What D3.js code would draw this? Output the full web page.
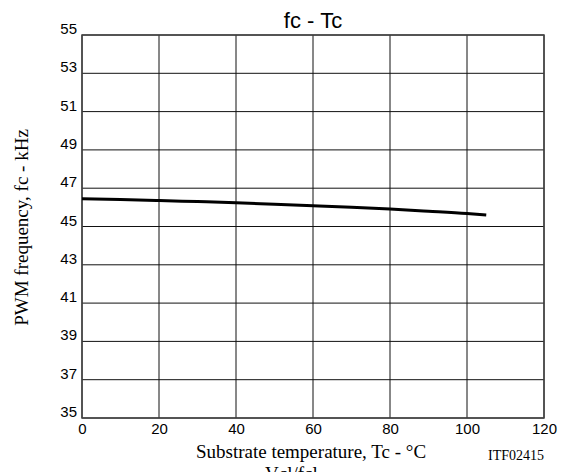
<!DOCTYPE html>
<html>
<head>
<meta charset="utf-8">
<script src="https://cdn.jsdelivr.net/npm/d3@7"></script>
<style>
  body { margin: 0; background: #fff; }
  svg { display: block; }
</style>
</head>
<body>
<svg id="chart" width="564" height="472"></svg>
<script>
// data
var tempC = [0, 10, 20, 30, 40, 50, 60, 70, 80, 90, 100, 105];
var freqKHz = [46.45, 46.41, 46.36, 46.30, 46.24, 46.16, 46.08, 46.00, 45.91, 45.80, 45.68, 45.60];
var xTicks = [0, 20, 40, 60, 80, 100, 120];
var yTicks = [35, 37, 39, 41, 43, 45, 47, 49, 51, 53, 55];

var margin = {top: 35, right: 20, bottom: 54, left: 82},
    width = 564 - margin.left - margin.right,
    height = 472 - margin.top - margin.bottom;

var sans = 'Liberation Sans, Arial, sans-serif',
    serif = 'Liberation Serif, Times New Roman, serif';

var svg = d3.select('#chart');
var g = svg.append('g').attr('transform', 'translate(' + margin.left + ',' + margin.top + ')');

var x = d3.scaleLinear().domain([0, 120]).range([0, width]);
var y = d3.scaleLinear().domain([35, 55]).range([height, 0]);

// grid
g.selectAll('line.vgrid').data(xTicks).enter().append('line')
    .attr('class', 'vgrid')
    .attr('x1', function (d) { return x(d); }).attr('x2', function (d) { return x(d); })
    .attr('y1', 0).attr('y2', height)
    .attr('stroke', '#111').attr('stroke-width', 1);
g.selectAll('line.hgrid').data(yTicks).enter().append('line')
    .attr('class', 'hgrid')
    .attr('x1', 0).attr('x2', width)
    .attr('y1', function (d) { return y(d); }).attr('y2', function (d) { return y(d); })
    .attr('stroke', '#111').attr('stroke-width', 1);

g.append('rect')
    .attr('width', width).attr('height', height)
    .attr('fill', 'none').attr('stroke', '#444').attr('stroke-width', 1.5);

// axes (labels only)
var xAxis = d3.axisBottom(x).tickValues(xTicks).tickSize(0).tickPadding(5);
var yAxis = d3.axisLeft(y).tickValues(yTicks).tickSize(0).tickPadding(5);

g.append('g').attr('transform', 'translate(0,' + height + ')').call(xAxis)
  .call(function (s) { s.select('.domain').remove(); })
  .selectAll('text')
    .attr('font-family', sans)
    .attr('font-size', 15).attr('fill', '#000');

g.append('g').call(yAxis)
  .call(function (s) { s.select('.domain').remove(); })
  .selectAll('text')
    .attr('font-family', sans)
    .attr('font-size', 15).attr('fill', '#000')
    .attr('dy', '-0.1em');

// curve
var line = d3.line()
    .x(function (d, i) { return x(tempC[i]); })
    .y(function (d) { return y(d); })
    .curve(d3.curveMonotoneX);

g.append('path')
    .datum(freqKHz)
    .attr('d', line)
    .attr('fill', 'none')
    .attr('stroke', '#000')
    .attr('stroke-width', 3);

// titles
svg.append('text')
    .attr('x', margin.left + width / 2).attr('y', 28)
    .attr('text-anchor', 'middle')
    .attr('font-family', sans)
    .attr('font-size', 22)
    .text('fc - Tc');

svg.append('text')
    .attr('x', 311).attr('y', 458)
    .attr('text-anchor', 'middle')
    .attr('font-family', serif)
    .attr('font-size', 19)
    .text('Substrate temperature, Tc - °C');

svg.append('text')
    .attr('x', 544).attr('y', 460)
    .attr('text-anchor', 'end')
    .attr('font-family', serif)
    .attr('font-size', 14)
    .text('ITF02415');

svg.append('text')
    .attr('transform', 'translate(28,' + (margin.top + height / 2 + 1) + ') rotate(-90)')
    .attr('text-anchor', 'middle')
    .attr('font-family', serif)
    .attr('font-size', 19)
    .text('PWM frequency, fc - kHz');

// caption cut off at the bottom edge
svg.append('text')
    .attr('x', 265).attr('y', 480)
    .attr('font-family', serif)
    .attr('font-size', 19)
    .text('Vcl/fcl');
</script>
</body>
</html>
